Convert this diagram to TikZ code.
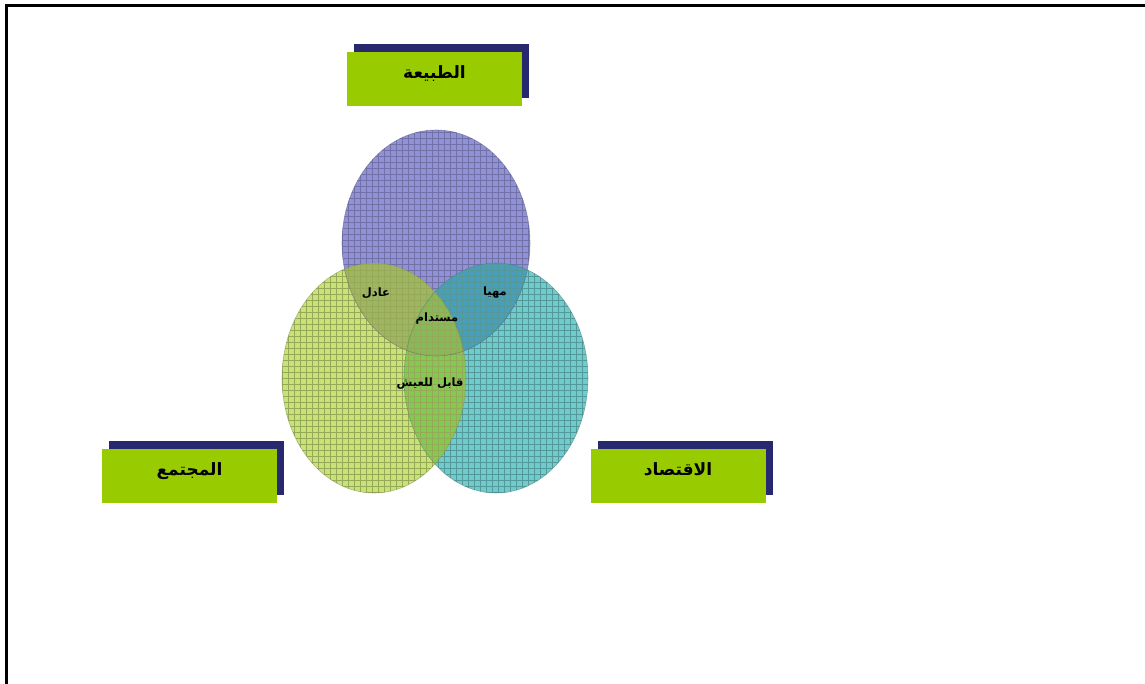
\documentclass[tikz,border=0pt]{standalone}
\usepackage{fontspec}
\newfontfamily\arabicfont[Script=Arabic]{DejaVu Sans}
\TeXXeTstate=1
\usepackage{tikz}
\usetikzlibrary{shapes.geometric, patterns.meta, shadows, positioning}
\definecolor{boxgreen}{RGB}{153,204,0}
\definecolor{shadownavy}{RGB}{40,40,110}
\definecolor{naturecol}{RGB}{145,145,215}
\definecolor{societycol}{RGB}{200,226,118}
\definecolor{economycol}{RGB}{112,204,204}
\definecolor{fairzone}{RGB}{158,182,98}
\definecolor{viablezone}{RGB}{72,158,190}
\definecolor{livablezone}{RGB}{128,204,80}
\definecolor{corezone}{RGB}{130,188,88}

% ellipse paths
\def\naturepath{(436,243) ellipse [x radius=94, y radius=113]}
\def\societypath{(374,378) ellipse [x radius=92, y radius=115]}
\def\economypath{(496,378) ellipse [x radius=92, y radius=115]}

\begin{document}
\begin{tikzpicture}[
    x=1pt, y=-1pt,
    titlebox/.style={rectangle, fill=boxgreen, minimum width=175pt, minimum height=54pt, inner sep=0pt,
        text depth=14pt, font=\arabicfont\bfseries\fontsize{17}{20}\selectfont,
        drop shadow={shadow xshift=7pt, shadow yshift=8pt, fill=shadownavy, opacity=1}},
    grid/.style={pattern={Hatch[angle=0, distance=6pt, line width=0.45pt]}, pattern color=#1},
    rim/.style={line width=0.6pt, draw opacity=0.5},
    zone/.style={font=\arabicfont\bfseries\fontsize{11.5}{13}\selectfont, inner sep=1pt},
]
    \useasboundingbox (0,0) rectangle (1145,684);

    % Frame
    \draw[line width=3pt] (6,684) -- (6,6) -- (1145,6);

    % Circles
    \fill[naturecol] \naturepath;
    \fill[economycol] \economypath;
    \fill[societycol] \societypath;
    \begin{scope}
        \clip \naturepath;
        \fill[fairzone] \societypath;
        \fill[viablezone] \economypath;
    \end{scope}
    \begin{scope}
        \clip \societypath;
        \fill[livablezone] \economypath;
        \clip \economypath;
        \fill[corezone] \naturepath;
    \end{scope}
    % grid texture
    \fill[grid=naturecol!78!black] \naturepath;
    \fill[grid=economycol!75!black] \economypath;
    \fill[grid=societycol!75!black] \societypath;
    \draw[rim, draw=naturecol!60!black] \naturepath;
    \draw[rim, draw=societycol!60!black] \societypath;
    \draw[rim, draw=economycol!60!black] \economypath;

    % Overlap labels
    \node[zone] (fair) at (376,293) {\beginR عادل\endR};
    \node[zone] (viable) at (495,293) {\beginR مهيا\endR};
    \node[zone] (sustainable) at (437,319) {\beginR مستدام\endR};
    \node[zone] (livable) at (430,384) {\beginR قابل للعيش\endR};

    % Titles
    \node[titlebox] (naturebox) at (434.5,79) {\beginR الطبيعة\endR};
    \node[titlebox] (societybox) at (189.5,476) {\beginR المجتمع\endR};
    \node[titlebox] (economybox) at (678,476) {\beginR الاقتصاد\endR};
\end{tikzpicture}
\end{document}
